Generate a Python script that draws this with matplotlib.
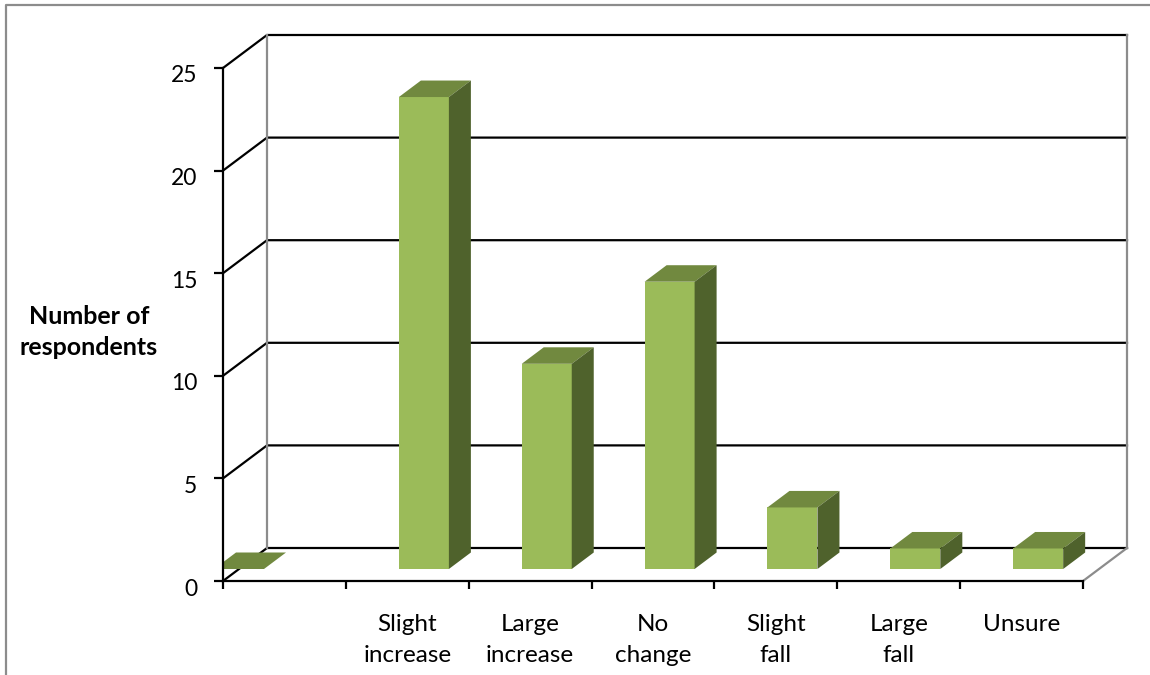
import matplotlib
matplotlib.use('Agg')
import matplotlib.pyplot as plt
from matplotlib.patches import Polygon
from matplotlib.lines import Line2D
from matplotlib.transforms import ScaledTranslation

categories = ['', 'Slight\nincrease', 'Large\nincrease', 'No\nchange', 'Slight\nfall', 'Large\nfall', 'Unsure']
values = [0, 23, 10, 14, 3, 1, 1]
y_ticks = [0, 5, 10, 15, 20, 25]

FRONT = '#9BBB59'
TOP = '#71893F'
SIDE = '#4F622C'
GRAY = '#8C8C8C'

plt.rcParams['font.family'] = ['Lato', 'DejaVu Sans']

W, H = 1150, 675
fig = plt.figure(figsize=(W / 100, H / 100), dpi=100)
fig.patch.set_facecolor('white')

# front plane of the fake 3D box, in pixels of the reference
left, right, top, bottom = 223, 1083, 68, 581
ax = fig.add_axes([left / W, 1 - bottom / H, (right - left) / W, (bottom - top) / H])
ax.set_xlim(0, len(categories))
ax.set_ylim(0, 25)
ax.patch.set_visible(False)

# depth of the box and of the bars, in data units
px_x = len(categories) / (right - left)
px_y = 25 / (bottom - top)
dx, dy = 44 * px_x, 33 * px_y
base_x, base_y = 15.3 * px_x, 12 * px_y
bar_dx, bar_dy = 22 * px_x, 16.5 * px_y
bar_w = 50 * px_x
n = len(categories)

# back wall
for t in y_ticks:
    ax.plot([0, dx, n + dx], [t, t + dy, t + dy], color='black', lw=1.6, clip_on=False, zorder=1,
            solid_joinstyle='miter')
ax.plot([dx, dx], [dy, 25 + dy], color=GRAY, lw=1.6, clip_on=False, zorder=1)
ax.plot([n + dx, n + dx], [dy, 25 + dy], color=GRAY, lw=1.6, clip_on=False, zorder=1)
ax.plot([n, n + dx], [0, dy], color=GRAY, lw=1.6, clip_on=False, zorder=1)

# bars
for i, v in enumerate(values):
    # the empty first category sits hard against the axis in the reference
    if i == 0:
        x0 = -9 * px_x
    else:
        x0 = i + 0.5 + base_x - bar_w / 2 + 1.3 * px_x
    y0 = base_y
    y1 = y0 + v
    x1 = x0 + bar_w
    clip = i == 0
    ax.bar(x0, v, width=bar_w, bottom=y0, align='edge', color=FRONT, edgecolor='none', zorder=3, clip_on=clip)
    ax.add_patch(Polygon([(x0, y1), (x1, y1), (x1 + bar_dx, y1 + bar_dy), (x0 + bar_dx, y1 + bar_dy)],
                         closed=True, facecolor=TOP, edgecolor='none', zorder=3, clip_on=clip))
    ax.add_patch(Polygon([(x1, y0), (x1 + bar_dx, y0 + bar_dy), (x1 + bar_dx, y1 + bar_dy), (x1, y1)],
                         closed=True, facecolor=SIDE, edgecolor='none', zorder=3, clip_on=clip))

# axes
for s in ['top', 'right']:
    ax.spines[s].set_visible(False)
for s in ['left', 'bottom']:
    ax.spines[s].set_linewidth(1.6)
    ax.spines[s].set_zorder(4)
ax.set_yticks(y_ticks)
ax.set_xticks(range(n + 1))
ax.set_xticklabels([])
ax.tick_params(axis='x', length=6, width=1.6, color='black')
ax.tick_params(axis='y', length=6.5, width=1.6, color='black', labelsize=16.5, pad=12)
# digits sit a little below their ticks
shift = ScaledTranslation(0, -6 / 100, fig.dpi_scale_trans)
for lab in ax.get_yticklabels():
    lab.set_transform(lab.get_transform() + shift)
for i, c in enumerate(categories):
    ax.annotate(c, (i + 0.5, 0), xytext=(0, -23.5), xycoords='data', textcoords='offset points',
                ha='center', va='top', fontsize=17.5, linespacing=1.6, annotation_clip=False)

fig.text(89 / W, 1 - 332 / H, 'Number of\nrespondents', ha='center', va='center', fontsize=18,
         fontweight='bold', linespacing=1.45)

# chart frame, cut off by the right and bottom of the image
fig.add_artist(Line2D([6 / W, 6 / W, 1], [0, 1 - 5 / H, 1 - 5 / H], color=GRAY, lw=1.6))

fig.savefig('out.png', dpi=100)
